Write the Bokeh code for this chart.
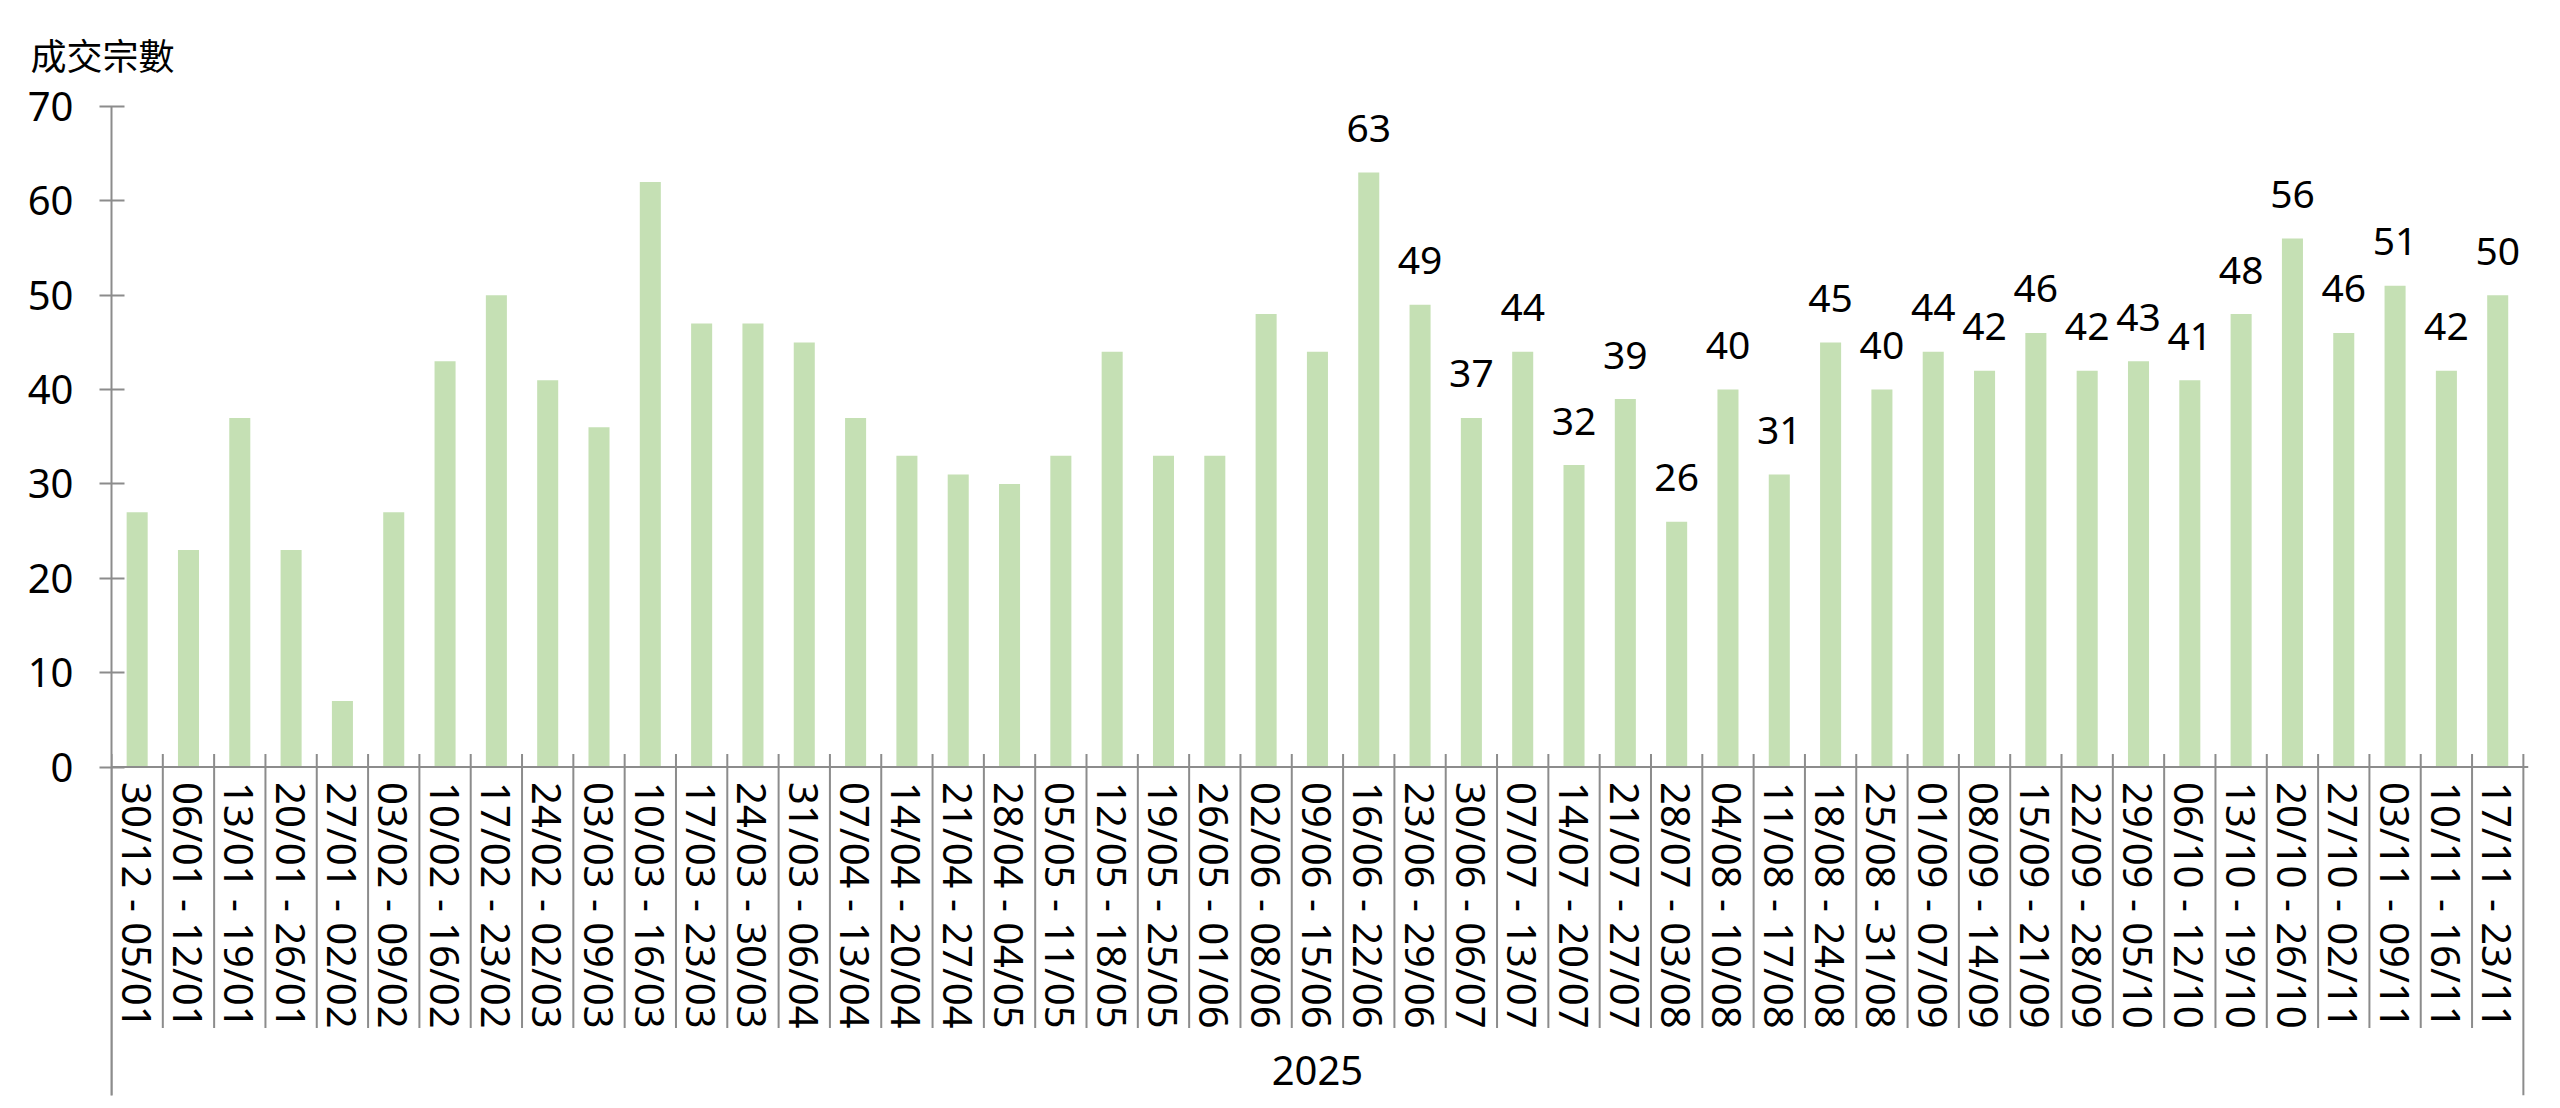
import math
from bokeh.plotting import figure
from bokeh.models import Range1d, FixedTicker, Span
from bokeh.core.properties import value
from bokeh.embed import file_html
from bokeh.resources import INLINE

weeks = [
    "30/12 - 05/01", "06/01 - 12/01", "13/01 - 19/01", "20/01 - 26/01",
    "27/01 - 02/02", "03/02 - 09/02", "10/02 - 16/02", "17/02 - 23/02",
    "24/02 - 02/03", "03/03 - 09/03", "10/03 - 16/03", "17/03 - 23/03",
    "24/03 - 30/03", "31/03 - 06/04", "07/04 - 13/04", "14/04 - 20/04",
    "21/04 - 27/04", "28/04 - 04/05", "05/05 - 11/05", "12/05 - 18/05",
    "19/05 - 25/05", "26/05 - 01/06", "02/06 - 08/06", "09/06 - 15/06",
    "16/06 - 22/06", "23/06 - 29/06", "30/06 - 06/07", "07/07 - 13/07",
    "14/07 - 20/07", "21/07 - 27/07", "28/07 - 03/08", "04/08 - 10/08",
    "11/08 - 17/08", "18/08 - 24/08", "25/08 - 31/08", "01/09 - 07/09",
    "08/09 - 14/09", "15/09 - 21/09", "22/09 - 28/09", "29/09 - 05/10",
    "06/10 - 12/10", "13/10 - 19/10", "20/10 - 26/10", "27/10 - 02/11",
    "03/11 - 09/11", "10/11 - 16/11", "17/11 - 23/11",
]
deals = [
    27, 23, 37, 23, 7, 27, 43, 50, 41, 36, 62, 47, 47, 45, 37, 33, 31, 30,
    33, 44, 33, 33, 48, 44, 63, 49, 37, 44, 32, 39, 26, 40, 31, 45, 40, 44,
    42, 46, 42, 43, 41, 48, 56, 46, 51, 42, 50,
]
first_labelled = 24
year_label = "2025"
y_title = "成交宗數"
y_ticks = [0, 10, 20, 30, 40, 50, 60, 70]

n = len(weeks)
xs = list(range(n))

AX = "#8c8c8c"
FONT = "Noto Sans"
FS = "40px"
FS_DATA = "39px"

y_bottom = -34.8
FRAME_H = 989
px_per_unit = FRAME_H / (70 - y_bottom)

p = figure(width=2544, height=1100,
           x_range=Range1d(-0.5, n - 0.4), y_range=Range1d(y_bottom, 70),
           output_backend="svg", toolbar_location=None, x_axis_location=None,
           min_border_left=111, min_border_right=16, min_border_top=106,
           min_border_bottom=5, title=y_title)
p.outline_line_color = None
p.grid.grid_line_color = None
p.background_fill_color = "white"

p.title.text_font = "Noto Sans CJK TC"
p.title.text_font_size = "36px"
p.title.text_font_style = "normal"
p.title.text_color = "black"
p.title.align = "left"
p.title.vertical_align = "top"
p.title.offset = -81
p.title.standoff = 49

ya = p.yaxis[0]
ya.ticker = FixedTicker(ticks=y_ticks)
ya.axis_line_color = AX
ya.axis_line_width = 2
ya.major_tick_line_color = AX
ya.major_tick_line_width = 2
ya.major_tick_in = 13
ya.major_tick_out = 12
ya.minor_tick_line_color = None
ya.major_label_standoff = 26
ya.major_label_text_font = FONT
ya.major_label_text_font_size = FS
ya.major_label_text_color = "black"

# bars
p.vbar(x=xs, top=deals, bottom=0, width=0.41, fill_color="#C5E0B4", line_color=None)

# x axis line
p.add_layout(Span(location=0, dimension="width", line_color=AX, line_width=2))

# category separators
tick_up = 13 / px_per_unit
sep_down = -(1028 - 767) / px_per_unit
bounds = [i - 0.5 for i in range(n + 1)]
y1s = [sep_down] * (n + 1)
y1s[0] = y_bottom
y1s[-1] = y_bottom
p.segment(x0=bounds, x1=bounds, y0=[tick_up] * (n + 1), y1=y1s,
          line_color=AX, line_width=2)

# category labels (rotated)
p.text(x=xs, y=[-15 / px_per_unit] * n, text=weeks, angle=-math.pi / 2,
       text_align="left", text_baseline="middle",
       text_font=value(FONT), text_font_size=FS, text_color="black")

# data labels
p.text(x=xs[first_labelled:], y=deals[first_labelled:],
       text=[str(v) for v in deals[first_labelled:]],
       y_offset=-44, text_align="center", text_baseline="alphabetic",
       text_font=value(FONT), text_font_size=FS_DATA, text_color="black")

# group label
p.text(x=[(n - 1) / 2], y=[-(1070 - 767) / px_per_unit], text=[year_label],
       text_align="center", text_baseline="middle",
       text_font=value(FONT), text_font_size=FS, text_color="black")

open("out.html", "w").write(file_html(p, INLINE))
